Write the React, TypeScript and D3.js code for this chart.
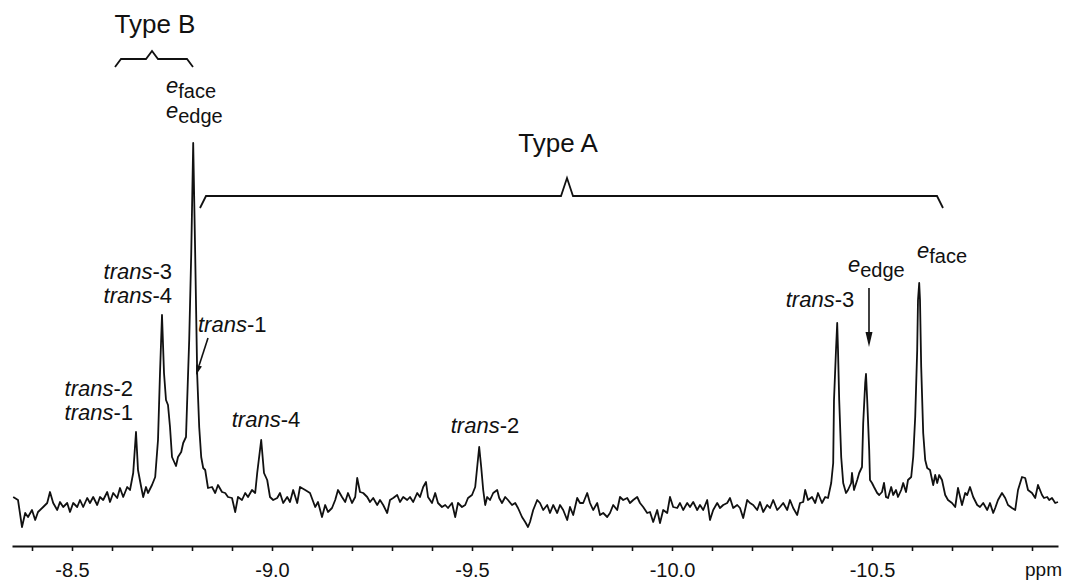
import * as d3 from "d3";
import { useEffect, useRef } from "react";

// chemical shift (ppm) / intensity (a.u.)
const spectrum: [number, number][] = [
  [-8.353, 48], [-8.365, 45], [-8.375, 18], [-8.383, 32], [-8.39, 28], [-8.4, 35], [-8.408, 25], [-8.415, 33],
  [-8.428, 38], [-8.438, 42], [-8.445, 53], [-8.453, 42], [-8.463, 35], [-8.47, 43], [-8.478, 38], [-8.488, 42],
  [-8.495, 33], [-8.503, 42], [-8.513, 38], [-8.52, 45], [-8.528, 38], [-8.538, 47], [-8.545, 42], [-8.553, 48],
  [-8.563, 40], [-8.57, 48], [-8.578, 45], [-8.588, 53], [-8.595, 43], [-8.603, 52], [-8.613, 47], [-8.62, 57],
  [-8.628, 48], [-8.638, 58], [-8.645, 55], [-8.653, 72], [-8.66, 113], [-8.665, 75], [-8.673, 58], [-8.678, 48],
  [-8.685, 58], [-8.69, 52], [-8.7, 60], [-8.708, 68], [-8.715, 105], [-8.72, 172], [-8.725, 230], [-8.73, 172],
  [-8.735, 145], [-8.74, 140], [-8.745, 118], [-8.75, 88], [-8.76, 79], [-8.765, 88], [-8.773, 93], [-8.778, 102],
  [-8.785, 108], [-8.788, 145], [-8.793, 205], [-8.798, 290], [-8.803, 402], [-8.808, 290], [-8.813, 170],
  [-8.818, 118], [-8.823, 88], [-8.828, 77], [-8.833, 75], [-8.84, 57], [-8.85, 58], [-8.858, 52], [-8.865, 60],
  [-8.875, 53], [-8.883, 52], [-8.89, 48], [-8.9, 47], [-8.908, 33], [-8.915, 48], [-8.925, 45], [-8.933, 52],
  [-8.94, 48], [-8.95, 55], [-8.958, 52], [-8.963, 72], [-8.973, 105], [-8.98, 72], [-8.988, 65], [-8.995, 48],
  [-9.003, 45], [-9.013, 47], [-9.02, 52], [-9.028, 42], [-9.038, 48], [-9.045, 43], [-9.053, 55], [-9.063, 42],
  [-9.07, 58], [-9.083, 55], [-9.095, 52], [-9.108, 38], [-9.115, 43], [-9.125, 28], [-9.133, 40], [-9.14, 33],
  [-9.15, 37], [-9.158, 45], [-9.165, 55], [-9.175, 48], [-9.183, 43], [-9.19, 52], [-9.2, 42], [-9.208, 48],
  [-9.213, 67], [-9.22, 53], [-9.228, 52], [-9.238, 48], [-9.245, 43], [-9.253, 47], [-9.263, 40], [-9.27, 45],
  [-9.278, 40], [-9.288, 32], [-9.295, 45], [-9.303, 47], [-9.313, 50], [-9.32, 43], [-9.328, 48], [-9.338, 45],
  [-9.345, 48], [-9.353, 43], [-9.363, 52], [-9.37, 48], [-9.378, 58], [-9.385, 63], [-9.39, 48], [-9.4, 42],
  [-9.408, 52], [-9.415, 42], [-9.425, 38], [-9.433, 40], [-9.44, 37], [-9.45, 42], [-9.458, 28], [-9.465, 42],
  [-9.475, 38], [-9.483, 40], [-9.49, 47], [-9.5, 50], [-9.508, 58], [-9.513, 78], [-9.518, 98], [-9.523, 78],
  [-9.528, 55], [-9.533, 40], [-9.538, 48], [-9.545, 45], [-9.553, 52], [-9.563, 55], [-9.568, 47], [-9.575, 42],
  [-9.583, 48], [-9.59, 45], [-9.6, 40], [-9.608, 42], [-9.615, 37], [-9.625, 28], [-9.633, 23], [-9.64, 18],
  [-9.645, 23], [-9.653, 35], [-9.663, 45], [-9.67, 42], [-9.678, 35], [-9.688, 40], [-9.695, 32], [-9.703, 40],
  [-9.713, 32], [-9.72, 40], [-9.728, 35], [-9.738, 25], [-9.745, 38], [-9.753, 30], [-9.763, 47], [-9.77, 42],
  [-9.778, 42], [-9.788, 52], [-9.795, 42], [-9.803, 35], [-9.813, 42], [-9.82, 30], [-9.828, 32], [-9.838, 28],
  [-9.845, 32], [-9.853, 40], [-9.863, 35], [-9.87, 48], [-9.878, 45], [-9.888, 47], [-9.895, 42], [-9.903, 45],
  [-9.913, 48], [-9.92, 42], [-9.928, 38], [-9.938, 32], [-9.945, 33], [-9.953, 23], [-9.963, 35], [-9.97, 22],
  [-9.978, 35], [-9.988, 32], [-9.995, 48], [-10.003, 38], [-10.013, 37], [-10.02, 42], [-10.028, 35],
  [-10.038, 42], [-10.045, 38], [-10.053, 43], [-10.063, 35], [-10.07, 40], [-10.078, 35], [-10.088, 45],
  [-10.095, 25], [-10.103, 35], [-10.113, 42], [-10.12, 37], [-10.128, 40], [-10.138, 42], [-10.145, 47],
  [-10.153, 37], [-10.163, 40], [-10.17, 37], [-10.178, 27], [-10.188, 45], [-10.195, 42], [-10.203, 40],
  [-10.213, 35], [-10.22, 43], [-10.228, 33], [-10.238, 40], [-10.245, 37], [-10.253, 45], [-10.263, 35],
  [-10.27, 38], [-10.278, 42], [-10.288, 35], [-10.295, 45], [-10.303, 37], [-10.313, 30], [-10.32, 42],
  [-10.328, 43], [-10.333, 55], [-10.34, 45], [-10.35, 48], [-10.358, 42], [-10.365, 52], [-10.375, 42],
  [-10.383, 48], [-10.39, 47], [-10.398, 62], [-10.403, 82], [-10.405, 145], [-10.41, 195], [-10.413, 222],
  [-10.415, 195], [-10.418, 145], [-10.423, 88], [-10.428, 62], [-10.435, 52], [-10.44, 55], [-10.448, 62],
  [-10.45, 72], [-10.455, 55], [-10.463, 65], [-10.468, 72], [-10.475, 78], [-10.478, 122], [-10.483, 162],
  [-10.485, 171], [-10.488, 145], [-10.493, 95], [-10.495, 65], [-10.5, 62], [-10.505, 58], [-10.513, 52],
  [-10.518, 50], [-10.525, 53], [-10.53, 62], [-10.535, 48], [-10.54, 47], [-10.548, 58], [-10.553, 50],
  [-10.56, 55], [-10.565, 48], [-10.573, 55], [-10.578, 62], [-10.585, 53], [-10.59, 65], [-10.598, 68],
  [-10.603, 88], [-10.608, 128], [-10.613, 195], [-10.615, 245], [-10.618, 262], [-10.62, 245], [-10.623, 178],
  [-10.628, 112], [-10.633, 85], [-10.638, 77], [-10.645, 75], [-10.653, 60], [-10.658, 70], [-10.663, 62],
  [-10.668, 70], [-10.675, 65], [-10.683, 50], [-10.69, 45], [-10.7, 42], [-10.708, 38], [-10.715, 57],
  [-10.725, 40], [-10.733, 52], [-10.738, 50], [-10.745, 58], [-10.753, 48], [-10.763, 40], [-10.77, 38],
  [-10.778, 42], [-10.788, 35], [-10.795, 42], [-10.803, 32], [-10.808, 37], [-10.815, 45], [-10.825, 52],
  [-10.833, 47], [-10.84, 40], [-10.85, 37], [-10.858, 35], [-10.865, 55], [-10.875, 68], [-10.883, 67],
  [-10.89, 55], [-10.9, 52], [-10.908, 47], [-10.915, 60], [-10.925, 50], [-10.93, 47], [-10.938, 48],
  [-10.943, 45], [-10.95, 47], [-10.958, 42], [-10.965, 43],
];

const tickShifts = [
  -8.4, -8.5, -8.6, -8.7, -8.8, -8.9, -9.0, -9.1, -9.2, -9.3, -9.4, -9.5, -9.6,
  -9.7, -9.8, -9.9, -10.0, -10.1, -10.2, -10.3, -10.4, -10.5, -10.6, -10.7, -10.8, -10.9,
];
const labelledShifts = [-8.5, -9.0, -9.5, -10.0, -10.5];
const unitLabel = "ppm";

const FONT = "'Liberation Sans', Arial, Helvetica, sans-serif";

export default function App() {
  const ref = useRef<SVGSVGElement | null>(null);

  useEffect(() => {
    const width = 1069;
    const height = 580;
    const axisY = 546;

    const x = d3.scaleLinear().domain([-8.35, -10.965]).range([12, 1058]);
    const y = d3.scaleLinear().domain([0, 400]).range([545, 145]);

    const svg = d3.select(ref.current);
    svg.selectAll("*").remove();
    svg.attr("width", width).attr("height", height);

    svg.append("rect").attr("width", width).attr("height", height).attr("fill", "#fff");

    // spectrum trace
    const line = d3.line<[number, number]>()
      .x(d => x(d[0]))
      .y(d => y(d[1]));

    svg.append("path")
      .datum(spectrum)
      .attr("d", line)
      .attr("fill", "none")
      .attr("stroke", "#111")
      .attr("stroke-width", 1.8)
      .attr("stroke-linejoin", "round");

    // ppm axis
    const axis = svg.append("g")
      .attr("transform", `translate(0,${axisY})`)
      .call(
        d3.axisBottom(x)
          .tickValues(tickShifts)
          .tickSize(5)
          .tickSizeOuter(0)
          .tickPadding(12)
          .tickFormat(d => (labelledShifts.some(v => Math.abs(v - +d) < 1e-6) ? (+d).toFixed(1) : ""))
      );
    axis.select(".domain").attr("stroke", "#111").attr("stroke-width", 2);
    axis.selectAll(".tick line").attr("stroke", "#111").attr("stroke-width", 1.6);
    axis.selectAll(".tick text")
      .attr("fill", "#111")
      .attr("font-family", FONT)
      .attr("font-size", 20);

    svg.append("text")
      .attr("x", 1062)
      .attr("y", 576)
      .attr("text-anchor", "end")
      .attr("font-family", FONT)
      .attr("font-size", 19)
      .attr("fill", "#111")
      .text(unitLabel);

    const ann = svg.append("g")
      .attr("font-family", FONT)
      .attr("fill", "#111");

    // brackets
    const bracket = (x0: number, x1: number, apex: number, yEnd: number, yBar: number, yTip: number) => {
      const p = d3.path();
      p.moveTo(x0, yEnd);
      p.lineTo(x0 + 6, yBar);
      p.lineTo(apex - 6, yBar);
      p.lineTo(apex, yTip);
      p.lineTo(apex + 6, yBar);
      p.lineTo(x1 - 6, yBar);
      p.lineTo(x1, yEnd);
      ann.append("path")
        .attr("d", p.toString())
        .attr("fill", "none")
        .attr("stroke", "#111")
        .attr("stroke-width", 1.8);
    };
    bracket(115, 193, 152, 67, 59, 51);
    bracket(200, 943, 567, 208, 196, 178);

    const plain = (t: string, px: number, py: number, size = 26) =>
      ann.append("text").attr("x", px).attr("y", py).attr("text-anchor", "middle")
        .attr("font-size", size).text(t);
    plain("Type B", 155, 33);
    plain("Type A", 558, 152);

    const trans = (n: string, px: number, py: number, anchor: string) => {
      const t = ann.append("text").attr("x", px).attr("y", py)
        .attr("text-anchor", anchor).attr("font-size", 22);
      t.append("tspan").attr("font-style", "italic").text("trans");
      t.append("tspan").text("-" + n);
    };
    trans("2", 133, 396, "end");
    trans("1", 133, 420, "end");
    trans("3", 172, 279, "end");
    trans("4", 172, 303, "end");
    trans("1", 198, 332, "start");
    trans("4", 266, 427, "middle");
    trans("2", 485, 433, "middle");
    trans("3", 820, 307, "middle");

    const eLabel = (sub: string, px: number, py: number) => {
      const t = ann.append("text").attr("x", px).attr("y", py).attr("font-size", 22);
      t.append("tspan").attr("font-style", "italic").text("e");
      t.append("tspan").attr("dy", 5).attr("font-size", 20).text(sub);
    };
    eLabel("face", 166, 93);
    eLabel("edge", 166, 118);
    eLabel("edge", 848, 272);
    eLabel("face", 917, 258);

    // arrows
    const arrow = (x0: number, y0: number, x1: number, y1: number, len: number, half: number) => {
      const a = Math.atan2(y1 - y0, x1 - x0);
      const bx = x1 - len * Math.cos(a);
      const by = y1 - len * Math.sin(a);
      ann.append("line")
        .attr("x1", x0).attr("y1", y0).attr("x2", bx).attr("y2", by)
        .attr("stroke", "#111").attr("stroke-width", 1.6);
      const nx = -Math.sin(a) * half;
      const ny = Math.cos(a) * half;
      ann.append("path")
        .attr("d", `M${x1},${y1}L${bx + nx},${by + ny}L${bx - nx},${by - ny}Z`)
        .attr("fill", "#111");
    };
    arrow(208, 338, 196, 375, 10, 3);
    arrow(869, 288, 869, 347, 15, 3.5);
  }, []);

  return (
    <svg
      ref={ref}
      style={{ position: "absolute", left: 0, top: 0, display: "block" }}
    />
  );
}
